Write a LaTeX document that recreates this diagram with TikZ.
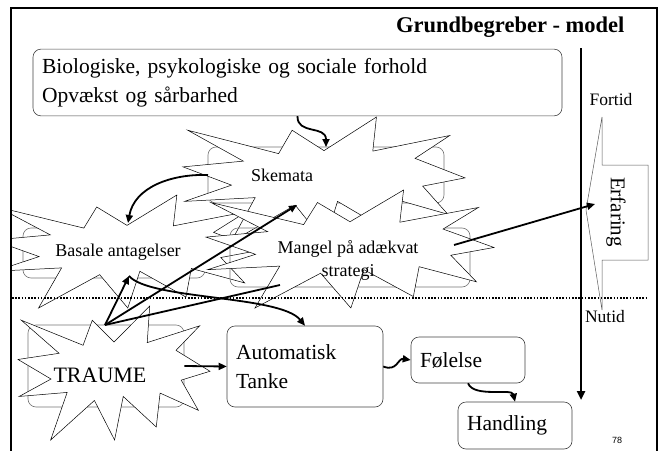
\documentclass[tikz,border=0pt]{standalone}
\usepackage{fontspec}
\setmainfont{Liberation Serif}
\newfontfamily\pagenofont{Liberation Sans}
\usetikzlibrary{arrows.meta}

\tikzset{
  box/.style={draw=black!75, rounded corners=8pt, line width=0.6pt, inner sep=9pt,
    align=left, font=\fontsize{21.5}{29}\selectfont},
  backbox/.style={draw=black!55, rounded corners=8pt, line width=0.6pt, inner sep=0pt},
  burst/.style={draw=black, fill=white, line width=0.5pt},
  burstlabel/.style={align=center, font=\fontsize{18}{23}\selectfont},
  conn/.style={line width=1.8pt, -{Triangle[length=8pt,width=7pt]}},
  explosion/.pic={
    \path[burst] (0.5,0.269) -- (0.387,0.106) -- (0.339,0.293) -- (0.017,0.106)
      -- (0.214,0.353) -- (0,0.399) -- (0.172,0.545) -- (0.006,0.675)
      -- (0.256,0.645) -- (0.170,1) -- (0.398,0.705) -- (0.503,1)
      -- (0.548,0.675) -- (0.720,0.903) -- (0.740,0.650) -- (0.939,0.778)
      -- (0.850,0.553) -- (1,0.487) -- (0.823,0.331) -- (0.946,0.148)
      -- (0.673,0.273) -- (0.686,0) -- cycle;
  }
}

\begin{document}
\begin{tikzpicture}[x=1pt, y=-1pt]
        \useasboundingbox (0,0) rectangle (664,450);

        \begin{scope}
          \clip (11,8) rectangle (657,450);

          % the four bursts, each over its own box
          \node[backbox, minimum width=236pt, minimum height=56pt] (skematabox) at (326,175) {};
          \pic[xscale=282, yscale=125] at (183,117) {explosion};
          \node[backbox, minimum width=182pt, minimum height=50pt] (basalebox) at (114,253) {};
          \pic[xscale=268, yscale=113] at (-7,195) {explosion};
          \node[backbox, minimum width=240pt, minimum height=59pt] (mangelbox) at (350,257.5) {};
          \pic[xscale=288, yscale=118] at (206,190) {explosion};
          \node[backbox, minimum width=156pt, minimum height=82pt] (traumebox) at (106,366) {};
          \pic[xscale=192, yscale=134] at (18,306) {explosion};

          \node[burstlabel] (skemata) at (282,175) {Skemata};
          \node[burstlabel] (basale) at (118,252) {Basale antagelser};
          \node[burstlabel] (mangel) at (348,260) {Mangel på adækvat\\strategi};
          \node[font=\fontsize{22}{26}\selectfont] (traume) at (100,375) {TRAUME};

          \node[box, minimum width=529pt, minimum height=61pt, text width=511pt] (bio)
            at (297.5,82.5) {Biologiske, psykologiske og sociale forhold\\Opvækst og sårbarhed};
          \node[box, minimum width=156pt, minimum height=81pt, text width=138pt] (auto)
            at (305,366.5) {Automatisk\\Tanke};
          \node[box, minimum width=114pt, minimum height=46pt, text width=96pt] (feel)
            at (468,360) {Følelse};
          \node[box, minimum width=114pt, minimum height=47pt, text width=96pt] (hand)
            at (515,425.5) {Handling};

          % past / present
          \draw[line width=1.6pt, dash pattern=on 1.6pt off 1.6pt] (12,298) -- (648,298);
          \coordinate (past) at (581,48);
          \coordinate (present) at (581,400);
          \draw[line width=2.5pt, -{Triangle[length=9pt,width=8pt]}] (past) -- (present);
          \node[font=\fontsize{17.5}{20}\selectfont] (fortid) at (611,100) {Fortid};
          \node[font=\fontsize{17.5}{20}\selectfont] (nutid) at (605,317) {Nutid};
          \draw[black!65, line width=0.5pt] (602,117) -- (602,165) -- (648,165) -- (648,260)
            -- (602,260) -- (602,310) -- (586,210) -- cycle;
          \node[rotate=-90, font=\fontsize{21}{24}\selectfont] (erfaring) at (616,212) {Erfaring};

          \coordinate (traumetip) at (105,325);
          \coordinate (skematain) at (326,147);
          \coordinate (skemataleft) at (208,175);
          \coordinate (skematalow) at (297,205);
          \coordinate (basaletop) at (128,223);
          \coordinate (basalelow) at (129,276);
          \coordinate (mangellow) at (280,285);
          \coordinate (mangelright) at (454,245);
          \coordinate (erftip) at (595,204);

          \draw[conn] (bio.south) .. controls (297,135) and (326,125) .. (skematain);
          \draw[conn] (skemataleft) to[out=178, in=80] (basaletop);
          \draw[conn] (traumetip) -- (basalelow);
          \draw[conn] (traumetip) -- (skematalow);
          \draw[line width=1.8pt] (traumetip) -- (mangellow);
          \draw[conn] (basalelow) .. controls (150,300) and (280,295) .. (auto.north);
          \draw[conn] (traumebox.east) -- (auto.west);
          \draw[conn] (auto.east) .. controls (397,372) and (398,358) .. (feel.west);
          \draw[conn] (feel.south) .. controls (474,398) and (512,388) .. (hand.north);
          \draw[conn] (mangelright) -- (erftip);
        \end{scope}

        \node[anchor=east, font=\bfseries\fontsize{22.5}{26}\selectfont] (title) at (628,27)
          {Grundbegreber - model};
        \node[font=\pagenofont\fontsize{9}{10}\selectfont] (pageno) at (617,440) {78};
        \draw[line width=2.5pt] (11,452) -- (11,8) -- (657,8) -- (657,452);
      \end{tikzpicture}
\end{document}
